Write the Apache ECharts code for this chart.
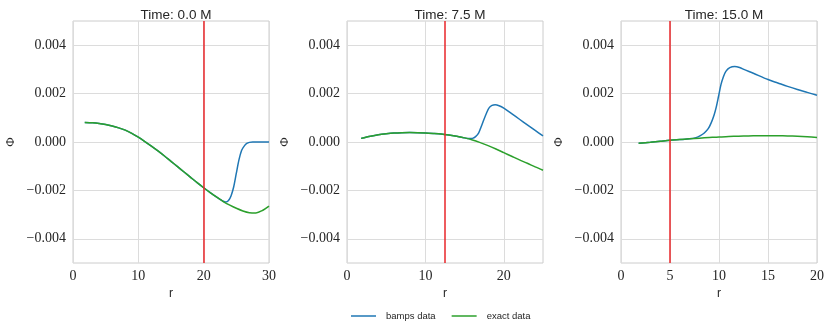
<!DOCTYPE html>
<html>
<head>
<meta charset="utf-8">
<script src="https://cdn.jsdelivr.net/npm/echarts@6/dist/echarts.min.js"></script>
<style>
  html, body { margin: 0; padding: 0; background: #fff; }
  #chart { width: 830px; height: 330px; }
</style>
</head>
<body>
<div id="chart"></div>
<script>
// values, Phi in units of 1e-3
const PHI_UNIT = 1e-3;

const titles = ['Time: 0.0 M', 'Time: 7.5 M', 'Time: 15.0 M'];
const horizonR = [20, 12.5, 5];
const rMax = [30, 25, 20];
const xTicks = [[0, 10, 20, 30], [0, 10, 20], [0, 5, 10, 15, 20]];
const yTicks = [-0.004, -0.002, 0, 0.002, 0.004];

// t = 0.0 M
const exactR0 = [1.8, 3, 4, 5, 6, 7, 8, 9, 10, 11, 12, 13, 14, 15, 16, 17, 18, 19, 20, 21, 22, 23, 24, 25, 26, 27, 28, 29, 30];
const exactP0 = [0.81, 0.795, 0.765, 0.72, 0.66, 0.585, 0.49, 0.36, 0.20, 0.02, -0.17, -0.37, -0.58, -0.80, -1.02, -1.24, -1.46, -1.68, -1.89, -2.09, -2.28, -2.46, -2.61, -2.74, -2.85, -2.92, -2.93, -2.83, -2.65];
const bampsR0 = [1.8, 3, 4, 5, 6, 7, 8, 9, 10, 11, 12, 13, 14, 15, 16, 17, 18, 19, 20, 21, 22, 22.5, 23, 23.4, 23.8, 24.2, 24.6, 25, 25.4, 25.8, 26.2, 26.6, 27, 27.5, 28, 29, 30];
const bampsP0 = [0.81, 0.795, 0.765, 0.72, 0.66, 0.585, 0.49, 0.36, 0.20, 0.02, -0.17, -0.37, -0.58, -0.80, -1.02, -1.24, -1.46, -1.68, -1.89, -2.09, -2.28, -2.37, -2.45, -2.48, -2.42, -2.22, -1.85, -1.29, -0.74, -0.35, -0.17, -0.06, -0.015, 0, 0, 0, 0];

// t = 7.5 M
const exactR1 = [1.8, 3, 4, 5, 6, 7, 8, 9, 10, 11, 12, 13, 14, 15, 16, 17, 18, 19, 20, 21, 22, 23, 24, 25];
const exactP1 = [0.15, 0.24, 0.30, 0.34, 0.37, 0.385, 0.39, 0.385, 0.375, 0.355, 0.33, 0.29, 0.24, 0.17, 0.085, -0.025, -0.15, -0.29, -0.44, -0.59, -0.74, -0.88, -1.03, -1.17];
const bampsR1 = [1.8, 3, 4, 5, 6, 7, 8, 9, 10, 11, 12, 13, 14, 15, 15.5, 16, 16.4, 16.8, 17.1, 17.45, 17.8, 18.1, 18.5, 18.9, 19.4, 20, 21, 22, 23, 24, 25];
const bampsP1 = [0.15, 0.24, 0.30, 0.34, 0.37, 0.385, 0.39, 0.385, 0.375, 0.355, 0.33, 0.29, 0.24, 0.17, 0.14, 0.15, 0.22, 0.38, 0.62, 0.92, 1.20, 1.40, 1.51, 1.54, 1.50, 1.40, 1.17, 0.94, 0.71, 0.48, 0.25];

// t = 15.0 M
const exactR2 = [1.8, 3, 4, 5, 6, 7, 8, 9, 10, 11, 12, 13, 14, 15, 16, 17, 18, 19, 20];
const exactP2 = [-0.055, -0.01, 0.03, 0.07, 0.10, 0.13, 0.16, 0.185, 0.21, 0.225, 0.24, 0.25, 0.257, 0.26, 0.257, 0.25, 0.235, 0.215, 0.19];
const bampsR2 = [1.8, 3, 4, 5, 6, 7, 7.65, 8.1, 8.5, 8.9, 9.2, 9.5, 9.7, 9.95, 10.2, 10.45, 10.7, 11.1, 11.6, 12.1, 12.6, 13.5, 15, 16, 17, 18, 19, 20];
const bampsP2 = [-0.055, -0.01, 0.03, 0.07, 0.10, 0.13, 0.18, 0.26, 0.37, 0.55, 0.79, 1.12, 1.41, 1.88, 2.37, 2.70, 2.92, 3.07, 3.12, 3.08, 2.99, 2.84, 2.58, 2.44, 2.30, 2.17, 2.05, 1.93];

const exactR = [exactR0, exactR1, exactR2];
const exactP = [exactP0, exactP1, exactP2];
const bampsR = [bampsR0, bampsR1, bampsR2];
const bampsP = [bampsP0, bampsP1, bampsP2];

const pairs = (rs, ps) => rs.map((r, i) => [r, ps[i] * PHI_UNIT]);
const fmtPhi = v => (Math.abs(v) < 1e-9 ? 0 : v).toFixed(3).replace('-', '\u2212');

const gridLeft = [73, 347, 621];
const gridW = 196;
const textColor = '#262626';
const serif = 'Liberation Serif';
const sans = 'Liberation Sans';

const chart = echarts.init(document.getElementById('chart'));

const grid = [], xAxis = [], yAxis = [], title = [], series = [];
for (let i = 0; i < 3; i++) {
  grid.push({
    left: gridLeft[i], width: gridW, top: 21, height: 242,
    show: true, borderColor: '#cccccc', borderWidth: 1, backgroundColor: '#fff'
  });
  title.push({
    text: titles[i], left: gridLeft[i] + gridW / 2, top: 3, textAlign: 'center',
    textStyle: { fontFamily: sans, fontSize: 13.5, fontWeight: 'normal', color: textColor }
  });
  xAxis.push({
    type: 'value', gridIndex: i, min: 0, max: rMax[i],
    name: 'r', nameLocation: 'middle', nameGap: 22,
    nameTextStyle: { fontFamily: sans, fontSize: 12, color: textColor },
    axisLine: { show: false }, axisTick: { show: false, customValues: xTicks[i] },
    axisLabel: { customValues: xTicks[i], fontFamily: serif, fontSize: 14, color: textColor, margin: 6 },
    splitLine: { show: true, lineStyle: { color: '#dcdcdc', width: 1 } }
  });
  yAxis.push({
    type: 'value', gridIndex: i, min: -0.005, max: 0.005,
    name: '\u03A6', nameLocation: 'middle', nameGap: 56, nameRotate: 90,
    nameTextStyle: { fontFamily: serif, fontSize: 13, color: textColor },
    axisLine: { show: false }, axisTick: { show: false, customValues: yTicks },
    axisLabel: { customValues: yTicks, fontFamily: serif, fontSize: 14, color: textColor, margin: 7, formatter: fmtPhi },
    splitLine: { show: true, lineStyle: { color: '#dcdcdc', width: 1 } }
  });
  series.push({
    name: 'bamps data', type: 'line', xAxisIndex: i, yAxisIndex: i,
    data: pairs(bampsR[i], bampsP[i]), showSymbol: false, smooth: 0.3,
    lineStyle: { color: '#1f77b4', width: 1.5 }, itemStyle: { color: '#1f77b4' },
    silent: true, clip: true, z: 2
  });
  series.push({
    name: 'exact data', type: 'line', xAxisIndex: i, yAxisIndex: i,
    data: pairs(exactR[i], exactP[i]), showSymbol: false, smooth: 0.3,
    lineStyle: { color: '#2ca02c', width: 1.5 }, itemStyle: { color: '#2ca02c' },
    silent: true, clip: true, z: 3,
    markLine: {
      silent: true, symbol: 'none', label: { show: false },
      lineStyle: { color: '#e8262a', width: 1.5, type: 'solid' },
      emphasis: { disabled: true },
      data: [{ xAxis: horizonR[i] }]
    }
  });
}

chart.setOption({
  animation: false,
  backgroundColor: '#fff',
  title, grid, xAxis, yAxis, series,
  legend: {
    left: 346, top: 306,
    data: ['bamps data', 'exact data'],
    icon: 'rect', itemWidth: 25, itemHeight: 1.5, itemGap: 16,
    textStyle: { fontFamily: sans, fontSize: 9.5, color: textColor, padding: [0, 0, 0, 5] }
  }
});
</script>
</body>
</html>
